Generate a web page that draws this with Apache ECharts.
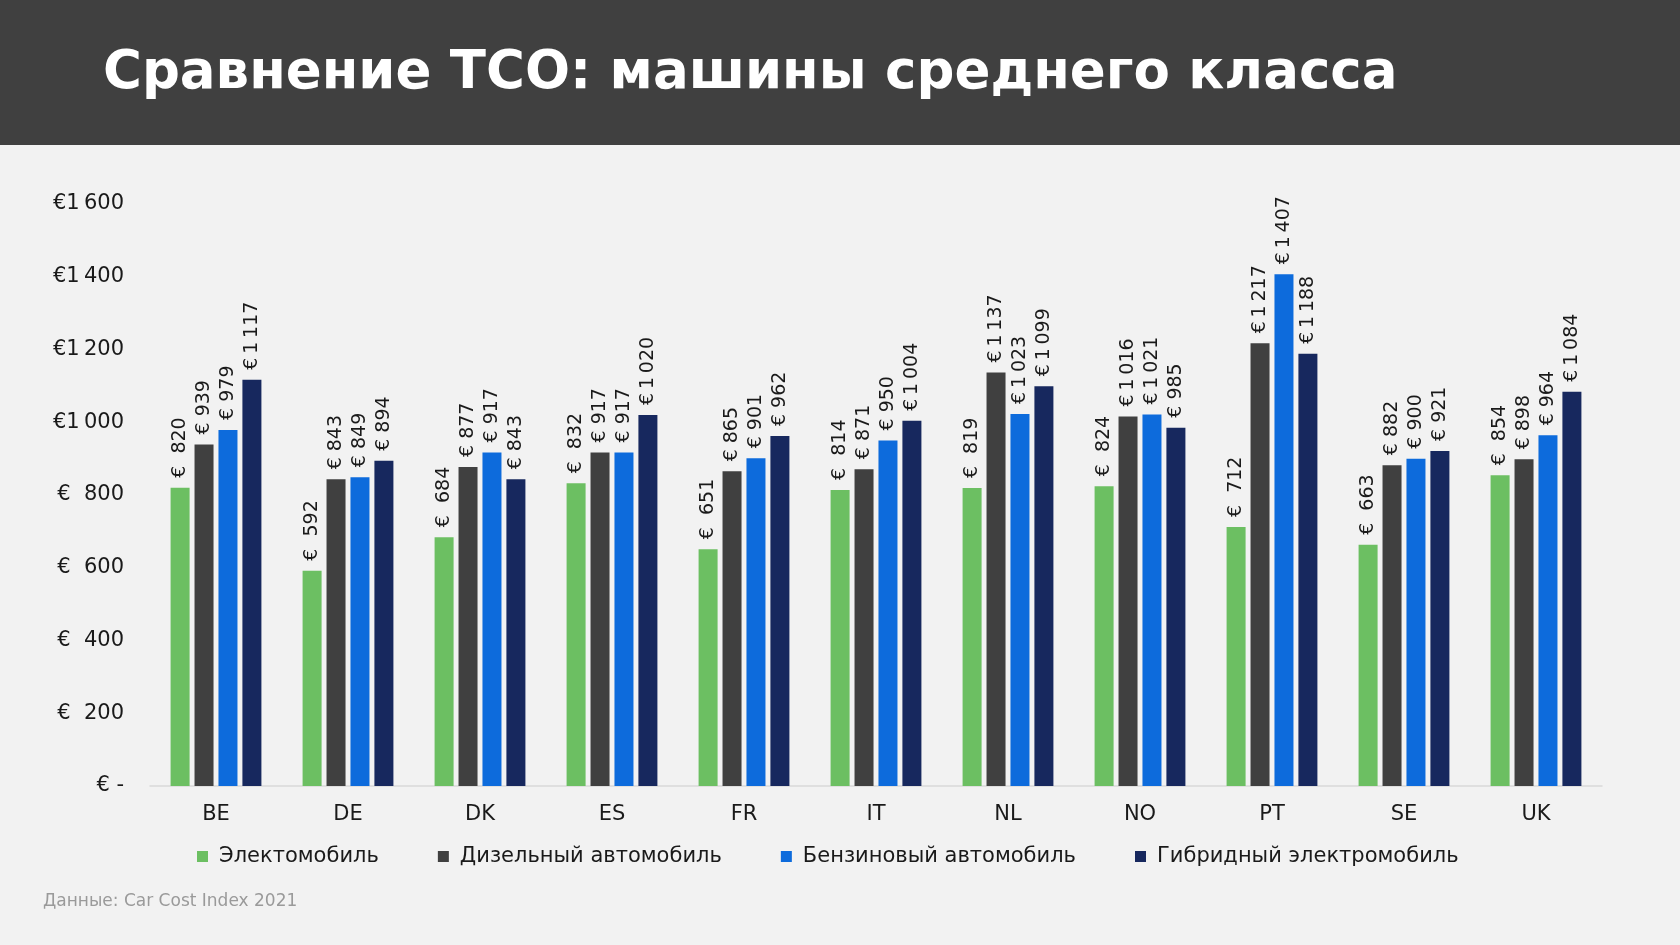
<!DOCTYPE html>
<html>
<head>
<meta charset="utf-8">
<script src="https://cdn.jsdelivr.net/npm/echarts@6/dist/echarts.min.js"></script>
<style>
html,body{margin:0;padding:0;background:#f2f2f2;}
#chart{width:1680px;height:945px;}
</style>
</head>
<body>
<div id="chart"></div>
<script>
const categories = ['BE','DE','DK','ES','FR','IT','NL','NO','PT','SE','UK'];
const seriesNames = ['Электомобиль','Дизельный автомобиль','Бензиновый автомобиль','Гибридный электромобиль'];
const electric = [820, 592, 684, 832, 651, 814, 819, 824, 712, 663, 854];
const diesel   = [939, 843, 877, 917, 865, 871, 1137, 1016, 1217, 882, 898];
const petrol   = [979, 849, 917, 917, 901, 950, 1023, 1021, 1407, 900, 964];
const hybrid   = [1117, 894, 843, 1020, 962, 1004, 1099, 985, 1188, 921, 1084];
const yTicks = [0, 200, 400, 600, 800, 1000, 1200, 1400, 1600];
const colors = ['#6cbf62', '#404040', '#0d6bdc', '#17285e'];

const FONT = 'DejaVu Sans';

function fmtTick(v){
  if (v === 0) return '€ -';
  if (v >= 1000) return '€' + Math.floor(v/1000) + '\u2009' + String(v%1000).padStart(3,'0');
  return '€  ' + v;
}
function fmtLabel(v, wide){
  if (v >= 1000) return '€\u2009' + Math.floor(v/1000) + '\u2009' + String(v%1000).padStart(3,'0');
  return (wide ? '€  ' : '€ ') + v;
}

const dataSets = [electric, diesel, petrol, hybrid];
const series = dataSets.map((d, i) => ({
  name: seriesNames[i],
  type: 'bar',
  data: d,
  barWidth: 19,
  barGap: '26%',
  itemStyle: { color: colors[i] },
  label: {
    show: true,
    position: 'top',
    rotate: 90,
    align: 'left',
    verticalAlign: 'middle',
    distance: 10,
    fontFamily: FONT,
    fontSize: 19,
    color: '#1a1a1a',
    formatter: p => fmtLabel(p.value, i === 0)
  }
}));

const chart = echarts.init(document.getElementById('chart'));
chart.setOption({
  backgroundColor: '#f2f2f2',
  animation: false,
  graphic: [
    { type: 'rect', left: 0, top: 0, z: -1, shape: { width: 1680, height: 145 }, style: { fill: '#404040' } },
    { type: 'text', left: 43, top: 893, style: { text: 'Данные: Car Cost Index 2021', fontFamily: FONT, fontSize: 17, fill: '#9a9a9a' } }
  ],
  title: {
    text: 'Сравнение ТСО: машины среднего класса',
    left: 98,
    top: 43,
    textStyle: { color: '#ffffff', fontFamily: FONT, fontSize: 53, fontWeight: 'bold' }
  },
  legend: {
    left: 192,
    top: 841,
    itemWidth: 11,
    itemHeight: 11,
    itemGap: 59,
    icon: 'rect',
    textStyle: { fontFamily: FONT, fontSize: 21, color: '#1a1a1a', padding: [0, 0, 0, 6] },
    data: seriesNames
  },
  grid: { left: 150, right: 78, top: 204, bottom: 159, containLabel: false },
  xAxis: {
    type: 'category',
    data: categories,
    axisLine: { lineStyle: { color: '#d9d9d9', width: 1.5 } },
    axisTick: { show: false },
    axisLabel: { fontFamily: FONT, fontSize: 21, color: '#1a1a1a', margin: 18 }
  },
  yAxis: {
    type: 'value',
    min: 0,
    max: 1600,
    interval: 200,
    axisLine: { show: false },
    axisTick: { show: false },
    splitLine: { show: false },
    axisLabel: { fontFamily: FONT, fontSize: 21, color: '#1a1a1a', margin: 26, formatter: v => yTicks.includes(v) ? fmtTick(v) : '' }
  },
  series: series
});
</script>
</body>
</html>
